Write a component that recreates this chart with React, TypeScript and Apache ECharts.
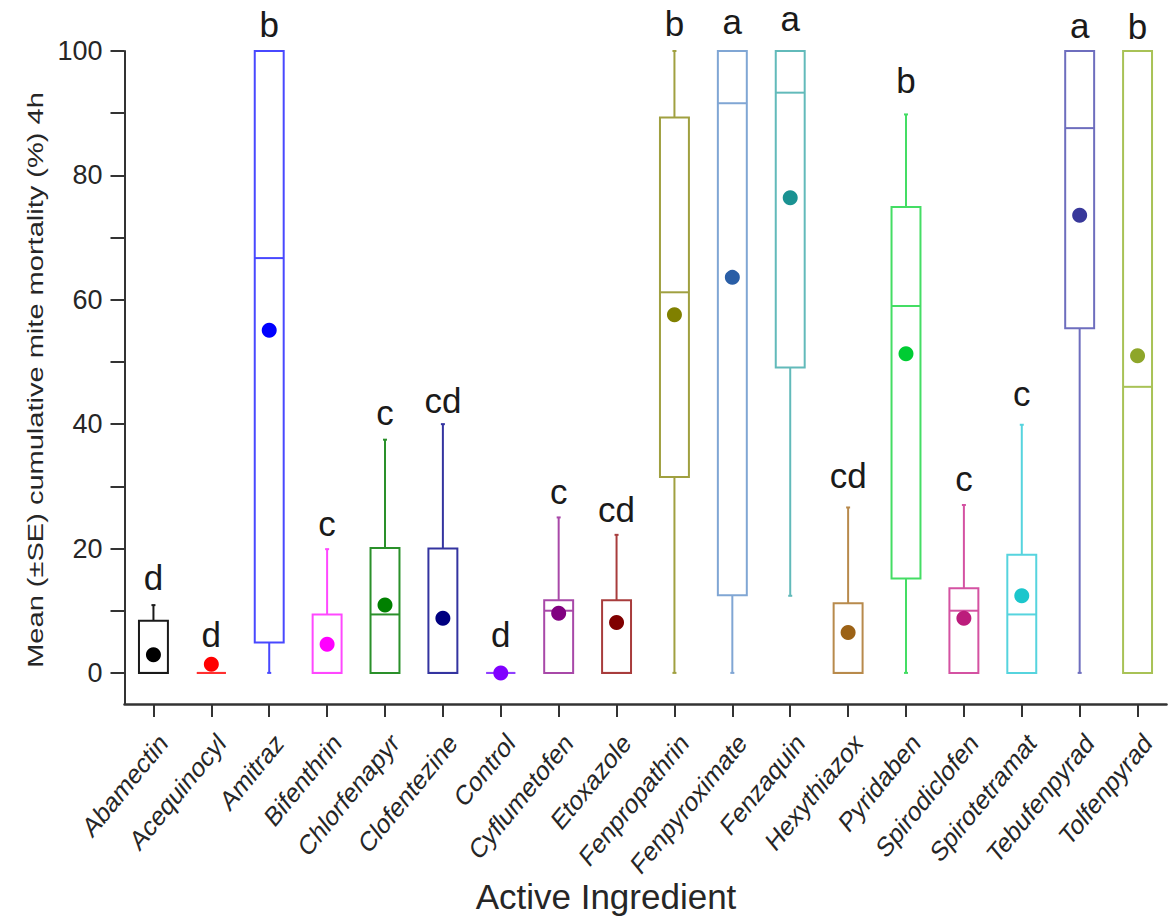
import React, { useEffect, useRef } from "react";
import * as echarts from "echarts";

const categories = [
  "Abamectin", "Acequinocyl", "Amitraz", "Bifenthrin", "Chlorfenapyr", "Clofentezine",
  "Control", "Cyflumetofen", "Etoxazole", "Fenpropathrin", "Fenpyroximate", "Fenzaquin",
  "Hexythiazox", "Pyridaben", "Spirodiclofen", "Spirotetramat", "Tebufenpyrad", "Tolfenpyrad",
];
const whiskerLow = [0, 0, 0, 0, 0, 0, 0, 0, 0, 0, 0, 12.4, 0, 0, 0, 0, 0, 0];
const boxLow = [0, 0, 4.9, 0, 0, 0, 0, 0, 0, 31.5, 12.5, 49.1, 0, 15.2, 0, 0, 55.4, 0];
const medians = [0, 0, 66.7, 0, 9.4, 0, 0, 10.0, 0, 61.2, 91.6, 93.3, 0, 59.0, 10.0, 9.4, 87.6, 46.0];
const boxHigh = [8.4, 0, 100, 9.4, 20.1, 20, 0, 11.7, 11.7, 89.3, 100, 100, 11.2, 74.9, 13.6, 19.0, 100, 100];
const whiskerHigh = [10.9, 0, 100, 19.9, 37.5, 40, 0, 25.0, 22.2, 100, 100, 100, 26.6, 89.8, 27.0, 39.9, 100, 100];
const means = [2.9, 1.4, 55.1, 4.6, 10.9, 8.8, 0, 9.6, 8.1, 57.6, 63.6, 76.4, 6.5, 51.3, 8.8, 12.4, 73.6, 51.0];
const letters = ["d", "d", "b", "c", "c", "cd", "d", "c", "cd", "b", "a", "a", "cd", "b", "c", "c", "a", "b"];
const letterY = [15.4, 6.1, 104.2, 24.1, 41.8, 43.8, 6.1, 29.1, 26.2, 104.4, 104.7, 105.2, 31.8, 95.3, 31.3, 45.0, 104.1, 103.9];
const yTickValues = [0, 10, 20, 30, 40, 50, 60, 70, 80, 90, 100];
const yLabelValues = [0, 20, 40, 60, 80, 100];

const meanColors = [
  "#000000", "#ff0000", "#0000ff", "#ff00ff", "#008000", "#000080",
  "#8000ff", "#800080", "#800000", "#808000", "#2a5ea6", "#1a9292",
  "#9c6216", "#00cc33", "#bc1c7c", "#1cc6cc", "#38389a", "#8ea62a",
];
const boxColors = [
  "#1a1a1a", "#ff3030", "#4848ff", "#ff48ff", "#2a902a", "#3434a0",
  "#9040ff", "#a848a8", "#a83c3c", "#a0a040", "#80a6d4", "#62baba",
  "#b88a4c", "#44dd64", "#d452a2", "#56d4de", "#6e6ebe", "#a8c256",
];

const FONT = '"Liberation Sans", Arial, Helvetica, sans-serif';
const TEXT = "#262626";

export default function App() {
  const ref = useRef<HTMLDivElement>(null);

  useEffect(() => {
    document.body.style.margin = "0";
    const chart = echarts.init(ref.current as HTMLDivElement, null, { renderer: "svg" });

    const boxData = categories.map((_, i) => [i, whiskerLow[i], boxLow[i], medians[i], boxHigh[i], whiskerHigh[i]]);

    const option: any = {
      animation: false,
      backgroundColor: "#ffffff",
      grid: { left: 124.5, top: 51, width: 1042, height: 653, containLabel: false },
      xAxis: {
        type: "category",
        data: categories,
        boundaryGap: true,
        axisLine: { onZero: false, lineStyle: { color: "#333333", width: 2.5 } },
        axisTick: { show: true, interval: 0, alignWithLabel: true, length: 13, lineStyle: { color: "#333333", width: 2 } },
        axisLabel: { show: true, interval: 0, formatter: () => "", fontSize: 1 },
        splitLine: { show: false },
      },
      yAxis: {
        type: "value",
        min: -5,
        max: 100,
        axisLine: { show: true, lineStyle: { color: "#333333", width: 2 } },
        axisTick: { show: true, length: 14, customValues: yTickValues, lineStyle: { color: "#333333", width: 2 } },
        axisLabel: { customValues: yLabelValues, fontSize: 27, margin: 22, color: TEXT, fontFamily: FONT },
        splitLine: { show: false },
      },
      series: [
        {
          type: "custom",
          name: "box",
          clip: false,
          data: boxData,
          encode: { x: 0, y: [1, 2, 3, 4, 5] },
          renderItem: (params: any, api: any) => {
            const i = api.value(0);
            const xc = api.coord([i, 0])[0];
            const w = api.size([1, 0])[0] * 0.5;
            const yLo = api.coord([i, api.value(1)])[1];
            const yQ1 = api.coord([i, api.value(2)])[1];
            const yMed = api.coord([i, api.value(3)])[1];
            const yQ3 = api.coord([i, api.value(4)])[1];
            const yHi = api.coord([i, api.value(5)])[1];
            const color = boxColors[i];
            const st = { stroke: color, lineWidth: 2, fill: "none" };
            const children: any[] = [];
            if (yLo - yQ1 > 0.5) {
              children.push({ type: "line", shape: { x1: xc, y1: yLo, x2: xc, y2: yQ1 }, style: st });
              children.push({ type: "line", shape: { x1: xc - 2, y1: yLo, x2: xc + 2, y2: yLo }, style: st });
            }
            if (yQ3 - yHi > 0.5) {
              children.push({ type: "line", shape: { x1: xc, y1: yQ3, x2: xc, y2: yHi }, style: st });
              children.push({ type: "line", shape: { x1: xc - 2, y1: yHi, x2: xc + 2, y2: yHi }, style: st });
            }
            children.push({
              type: "polygon",
              shape: { points: [[xc - w / 2, yQ3], [xc + w / 2, yQ3], [xc + w / 2, yQ1], [xc - w / 2, yQ1]] },
              style: st,
            });
            children.push({ type: "line", shape: { x1: xc - w / 2, y1: yMed, x2: xc + w / 2, y2: yMed }, style: st });
            return { type: "group", children };
          },
          z: 2,
        },
        {
          type: "scatter",
          name: "mean",
          symbol: "circle",
          symbolSize: 15,
          data: means.map((v, i) => ({ value: [i, v], itemStyle: { color: meanColors[i], opacity: 1 } })),
          z: 5,
        },
        {
          type: "custom",
          name: "letters",
          clip: false,
          data: letterY.map((v, i) => [i, v]),
          encode: { x: 0, y: 1 },
          renderItem: (params: any, api: any) => {
            const i = api.value(0);
            const p = api.coord([i, api.value(1)]);
            return {
              type: "text",
              x: p[0],
              y: p[1],
              style: {
                text: letters[i],
                fontSize: 35,
                fontFamily: FONT,
                fill: "#1a1a1a",
                align: "center",
                verticalAlign: "middle",
              },
            };
          },
          z: 6,
        },
        {
          type: "custom",
          name: "xlabels",
          clip: false,
          data: categories.map((_, i) => [i, -5]),
          encode: { x: 0, y: 1 },
          renderItem: (params: any, api: any) => {
            const i = api.value(0);
            const p = api.coord([i, -5]);
            return {
              type: "group",
              x: p[0] + 10,
              y: p[1] + 34,
              scaleY: 1.22,
              children: [
                {
                  type: "text",
                  rotation: Math.PI / 4,
                  style: {
                    text: categories[i],
                    fontSize: 23,
                    fontFamily: FONT,
                    fill: TEXT,
                    align: "right",
                    verticalAlign: "middle",
                  },
                },
              ],
            };
          },
          z: 6,
        },
      ],
      graphic: [
        {
          type: "text",
          x: 606,
          y: 896,
          style: {
            text: "Active Ingredient",
            fontSize: 35,
            fontFamily: FONT,
            fill: TEXT,
            align: "center",
            verticalAlign: "middle",
          },
        },
        {
          type: "group",
          x: 35,
          y: 380,
          scaleY: 1.32,
          children: [
            {
              type: "text",
              rotation: Math.PI / 2,
              style: {
                text: "Mean (±SE) cumulative mite mortality (%) 4h",
                fontSize: 22,
                fontFamily: FONT,
                fill: TEXT,
                align: "center",
                verticalAlign: "middle",
              },
            },
          ],
        },
      ],
    };

    chart.setOption(option);
    return () => chart.dispose();
  }, []);

  return <div ref={ref} style={{ width: 1170, height: 921 }} />;
}
